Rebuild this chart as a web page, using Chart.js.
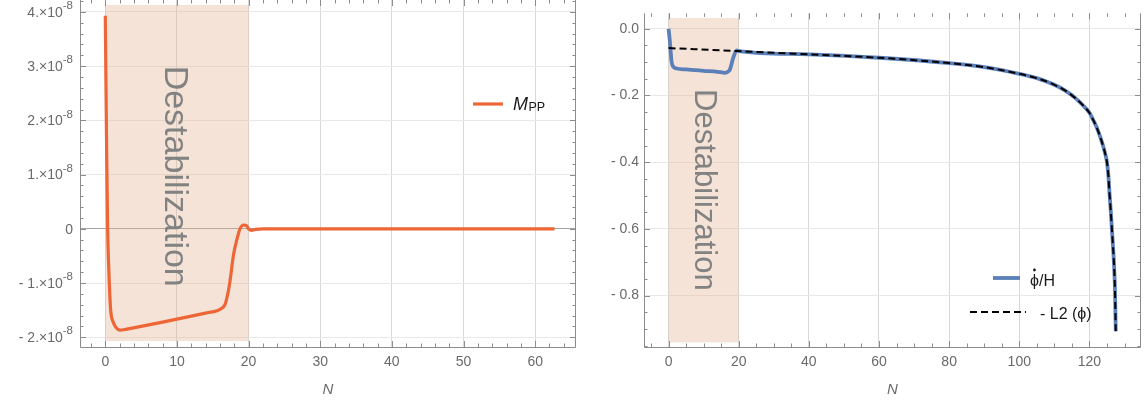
<!DOCTYPE html>
<html><head><meta charset="utf-8">
<script src="https://cdn.jsdelivr.net/npm/chart.js@4.4.1/dist/chart.umd.min.js"></script>
<style>
html,body{margin:0;padding:0;background:#fff;width:1148px;height:403px;overflow:hidden}
#c1{position:absolute;left:0;top:0}
#c2{position:absolute;left:580px;top:0}
</style></head><body>
<canvas id="c1" width="580" height="403"></canvas>
<canvas id="c2" width="568" height="403"></canvas>
<script>
// ---------- data ----------
const mppN   = [0, 0.1, 0.2, 0.33, 0.45, 0.56, 0.75, 1.1, 1.5, 2.05, 3, 5, 8, 10, 12, 14, 15.6, 16.2, 16.7, 17.1, 17.4, 17.9, 18.4, 18.8, 19.3, 19.7, 20.0, 20.4, 21, 22, 30, 40, 50, 62.7];
const mppVal = [3.93e-8, 2.6e-8, 1.3e-8, 0, -0.6e-8, -1.0e-8, -1.5e-8, -1.72e-8, -1.82e-8, -1.87e-8, -1.85e-8, -1.80e-8, -1.72e-8, -1.665e-8, -1.61e-8, -1.555e-8, -1.51e-8, -1.47e-8, -1.40e-8, -1.2e-8, -0.97e-8, -0.48e-8, -0.18e-8, 0, 0.07e-8, 0.06e-8, 0, -0.03e-8, -0.01e-8, 0, 0, 0, 0, 0];

const phiN   = [0, 0.4, 0.85, 1.3, 2.3, 5, 10, 14, 16.1, 17.0, 17.5, 18.4, 19.4, 20, 40, 60, 80, 90, 100, 105, 110, 113, 116, 118, 120, 121, 122, 123, 124, 124.5, 125, 125.4, 125.7, 126.1, 126.4, 126.7, 127, 127.3, 127.5];
const phiVal = [0, -0.04, -0.098, -0.113, -0.119, -0.122, -0.126, -0.129, -0.132, -0.128, -0.122, -0.089, -0.065, -0.067, -0.077, -0.087, -0.103, -0.115, -0.135, -0.148, -0.168, -0.185, -0.208, -0.228, -0.252, -0.272, -0.294, -0.322, -0.355, -0.375, -0.4, -0.44, -0.49, -0.55, -0.6, -0.65, -0.705, -0.79, -0.907];

const l2N   = [0, 20, 40, 60, 80, 90, 100, 105, 110, 113, 116, 118, 120, 121, 122, 123, 124, 124.5, 125, 125.4, 125.7, 126.1, 126.4, 126.7, 127, 127.3, 127.5];
const l2Val = [-0.058, -0.067, -0.077, -0.087, -0.103, -0.115, -0.135, -0.148, -0.168, -0.185, -0.208, -0.228, -0.252, -0.272, -0.294, -0.322, -0.355, -0.375, -0.4, -0.44, -0.49, -0.55, -0.6, -0.65, -0.705, -0.79, -0.907];

const bandN = [0, 20];
const leftBandY  = [-2.07e-8, 4.13e-8];
const rightBandY = [-0.94, 0.032];
const bandLabel = 'Destabilization';
const leftLabelAt  = [10.1, 0.97e-8];
const rightLabelAt = [10.6, -0.483];

const leftXTicks  = [0, 10, 20, 30, 40, 50, 60];
const leftXLabels = ['0', '10', '20', '30', '40', '50', '60'];
const leftYTicks  = [-2e-8, -1e-8, 0, 1e-8, 2e-8, 3e-8, 4e-8];
const leftYMant   = ['- 2.×10', '- 1.×10', '0', '1.×10', '2.×10', '3.×10', '4.×10'];
const leftYExp    = ['-8', '-8', '', '-8', '-8', '-8', '-8'];
const rightXTicks  = [0, 20, 40, 60, 80, 100, 120];
const rightXLabels = ['0', '20', '40', '60', '80', '100', '120'];
const rightYTicks  = [-0.8, -0.6, -0.4, -0.2, 0];
const rightYLabels = ['- 0.8', '- 0.6', '- 0.4', '- 0.2', '0.0'];

// axis ranges
const leftXRange  = [-3.53, 65.7];
const leftYRange  = [-2.18e-8, 4.22e-8];
const rightXRange = [-7, 134.7];
const rightYRange = [-0.954, 0.046];

// ---------- styles ----------
const ORANGE = '#ee6536';
const BLUE = '#5b7fb9';
const FRAME = '#8c8c8c';
const TICKC = '#6a6a6a';
const FONT = '"Liberation Sans", Arial, sans-serif';

function pts(xs, ys){ return xs.map((x,i)=>({x:x, y:ys[i]})); }

function makePlugins(cfg){
  return [{
    id:'band',
    beforeDatasetsDraw(chart){
      const {ctx, chartArea:a, scales:{x,y}} = chart;
      ctx.save();
      const x0 = x.getPixelForValue(cfg.band[0]), x1 = x.getPixelForValue(cfg.band[1]);
      const y0 = y.getPixelForValue(cfg.bandY[1]), y1 = y.getPixelForValue(cfg.bandY[0]);
      ctx.fillStyle = 'rgba(224,178,140,0.36)';
      ctx.fillRect(x0, y0, x1-x0, y1-y0);
      ctx.translate(x.getPixelForValue(cfg.labelAt[0]), y.getPixelForValue(cfg.labelAt[1]));
      ctx.rotate(Math.PI/2);
      ctx.fillStyle = '#828282';
      ctx.font = cfg.labelSize + 'px ' + FONT;
      ctx.textAlign = 'center';
      ctx.textBaseline = 'alphabetic';
      ctx.fillText(bandLabel, 0, 0.358*cfg.labelSize);
      ctx.restore();
    },
    afterDraw(chart){
      const {ctx, chartArea:a, scales:{x,y}} = chart;
      ctx.save();
      ctx.strokeStyle = FRAME; ctx.lineWidth = 1;
      ctx.beginPath();
      ctx.moveTo(a.left+0.5, a.top); ctx.lineTo(a.left+0.5, a.bottom+0.5);
      ctx.lineTo(a.right-0.5, a.bottom+0.5); ctx.lineTo(a.right-0.5, a.top);
      ctx.stroke();
      ctx.beginPath();
      const xt = (v,len)=>{ const p=Math.round(x.getPixelForValue(v))+0.5; if(p<a.left||p>a.right) return;
        ctx.moveTo(p,a.bottom); ctx.lineTo(p,a.bottom-len); ctx.moveTo(p,a.top); ctx.lineTo(p,a.top+len); };
      const yt = (v,len)=>{ const p=Math.round(y.getPixelForValue(v))+0.5; if(p<a.top||p>a.bottom) return;
        ctx.moveTo(a.left,p); ctx.lineTo(a.left+len,p); ctx.moveTo(a.right,p); ctx.lineTo(a.right-len,p); };
      for(let k=Math.ceil(x.min/cfg.xMinor); k*cfg.xMinor<=x.max; k++) xt(k*cfg.xMinor, 3.5);
      for(let k=Math.ceil(y.min/cfg.yMinor); k*cfg.yMinor<=y.max; k++) yt(k*cfg.yMinor, 3.5);
      cfg.xTicks.forEach(v=>xt(v,6));
      cfg.yTicks.forEach(v=>yt(v,6));
      ctx.stroke();
      // axis title
      ctx.fillStyle = TICKC;
      ctx.font = 'italic 15px ' + FONT;
      ctx.textAlign = 'center'; ctx.textBaseline = 'middle';
      ctx.fillText('N', (a.left+a.right)/2, a.bottom+43);
      // custom y labels (left chart)
      if (cfg.yMant){
        cfg.yTicks.forEach((v,i)=>{
          const p = y.getPixelForValue(v);
          let xr = a.left - 7;
          ctx.textAlign = 'right'; ctx.textBaseline = 'middle';
          if (cfg.yExp[i]){
            ctx.font = '11.5px ' + FONT;
            ctx.fillText(cfg.yExp[i], xr, p-6);
            xr -= ctx.measureText(cfg.yExp[i]).width;
          }
          ctx.font = '14px ' + FONT;
          ctx.fillText(cfg.yMant[i], xr, p+1);
        });
      }
      // legend
      cfg.legend(ctx);
      ctx.restore();
    }
  }];
}

function gridColor(c){ return c.tick && c.tick.value===0 && c.scale.chart.canvas.id==='c1' ? '#a3a3a3' : '#e8e8e8'; }

function makeScales(xr, yr, xTicks, xLabels, yTicks, yLabels, yWidth, showY){
  return {
    x: {type:'linear', min:xr[0], max:xr[1],
        afterBuildTicks: s=>{ s.ticks = xTicks.map(v=>({value:v})); },
        afterFit: s=>{ s.height = 56; },
        grid:{color:'#d8d8d8', drawTicks:false}, border:{display:false},
        ticks:{padding:7, color:TICKC, font:{family:FONT, size:14}, maxRotation:0, autoSkip:false,
               callback:(v,i)=>xLabels[i]}},
    y: {type:'linear', min:yr[0], max:yr[1],
        afterBuildTicks: s=>{ s.ticks = yTicks.map(v=>({value:v})); },
        afterFit: s=>{ s.width = yWidth; },
        grid:{color:gridColor, drawTicks:false}, border:{display:false},
        ticks:{display:showY, padding:5, color:TICKC, font:{family:FONT, size:14}, autoSkip:false,
               callback:(v,i)=>yLabels ? yLabels[i] : ''}}
  };
}

new Chart(document.getElementById('c1'), {
  type:'line',
  data:{datasets:[{label:'M_PP', data:pts(mppN, mppVal), borderColor:ORANGE, borderWidth:3.2,
    pointRadius:0, fill:false, cubicInterpolationMode:'monotone'}]},
  options:{responsive:false, animation:false, events:[],
    layout:{padding:{left:0, right:4, top:0, bottom:0}},
    plugins:{legend:{display:false}, tooltip:{enabled:false}},
    scales: makeScales(leftXRange, leftYRange, leftXTicks, leftXLabels, leftYTicks, null, 80, false)},
  plugins: makePlugins({band:bandN, bandY:leftBandY, labelAt:leftLabelAt, labelSize:34,
    xMinor:2, yMinor:0.2e-8, xTicks:leftXTicks, yTicks:leftYTicks, yMant:leftYMant, yExp:leftYExp,
    legend:(ctx)=>{
      ctx.strokeStyle = ORANGE; ctx.lineWidth = 3.2; ctx.setLineDash([]);
      ctx.beginPath(); ctx.moveTo(473,104); ctx.lineTo(503,104); ctx.stroke();
      ctx.fillStyle = '#1a1a1a'; ctx.textAlign='left'; ctx.textBaseline='alphabetic';
      ctx.font = 'italic 18px ' + FONT; ctx.fillText('M', 513, 110);
      const w = ctx.measureText('M').width;
      ctx.font = '12.5px ' + FONT; ctx.fillText('PP', 513+w+0.5, 111);
    }})
});

new Chart(document.getElementById('c2'), {
  type:'line',
  data:{datasets:[
    {label:'-L2(ϕ)', data:pts(l2N, l2Val), borderColor:'#000', borderWidth:2, borderDash:[7,4],
      pointRadius:0, fill:false, cubicInterpolationMode:'monotone', order:0},
    {label:'ϕ̇/H', data:pts(phiN, phiVal), borderColor:BLUE, borderWidth:3.8,
      pointRadius:0, fill:false, cubicInterpolationMode:'monotone', order:1}
  ]},
  options:{responsive:false, animation:false, events:[],
    layout:{padding:{left:0, right:7, top:0, bottom:0}},
    plugins:{legend:{display:false}, tooltip:{enabled:false}},
    scales: makeScales(rightXRange, rightYRange, rightXTicks, rightXLabels, rightYTicks, rightYLabels, 64, true)},
  plugins: makePlugins({band:bandN, bandY:rightBandY, labelAt:rightLabelAt, labelSize:31,
    xMinor:5, yMinor:0.05, xTicks:rightXTicks, yTicks:rightYTicks,
    legend:(ctx)=>{
      ctx.setLineDash([]);
      ctx.strokeStyle = BLUE; ctx.lineWidth = 3.8;
      ctx.beginPath(); ctx.moveTo(413,278); ctx.lineTo(440,278); ctx.stroke();
      ctx.strokeStyle = '#000'; ctx.lineWidth = 2; ctx.setLineDash([7,4]);
      ctx.beginPath(); ctx.moveTo(390,312); ctx.lineTo(446,312); ctx.stroke();
      ctx.setLineDash([]);
      ctx.fillStyle = '#1a1a1a'; ctx.textAlign='left'; ctx.textBaseline='alphabetic';
      ctx.font = '16px ' + FONT;
      ctx.fillText('ϕ/H', 450, 286);
      const pw = ctx.measureText('ϕ').width;
      ctx.beginPath(); ctx.arc(450 + pw/2, 270, 1.4, 0, Math.PI*2); ctx.fill();
      ctx.fillText('- L2 (ϕ)', 460, 319);
    }})
});
</script>
</body></html>
